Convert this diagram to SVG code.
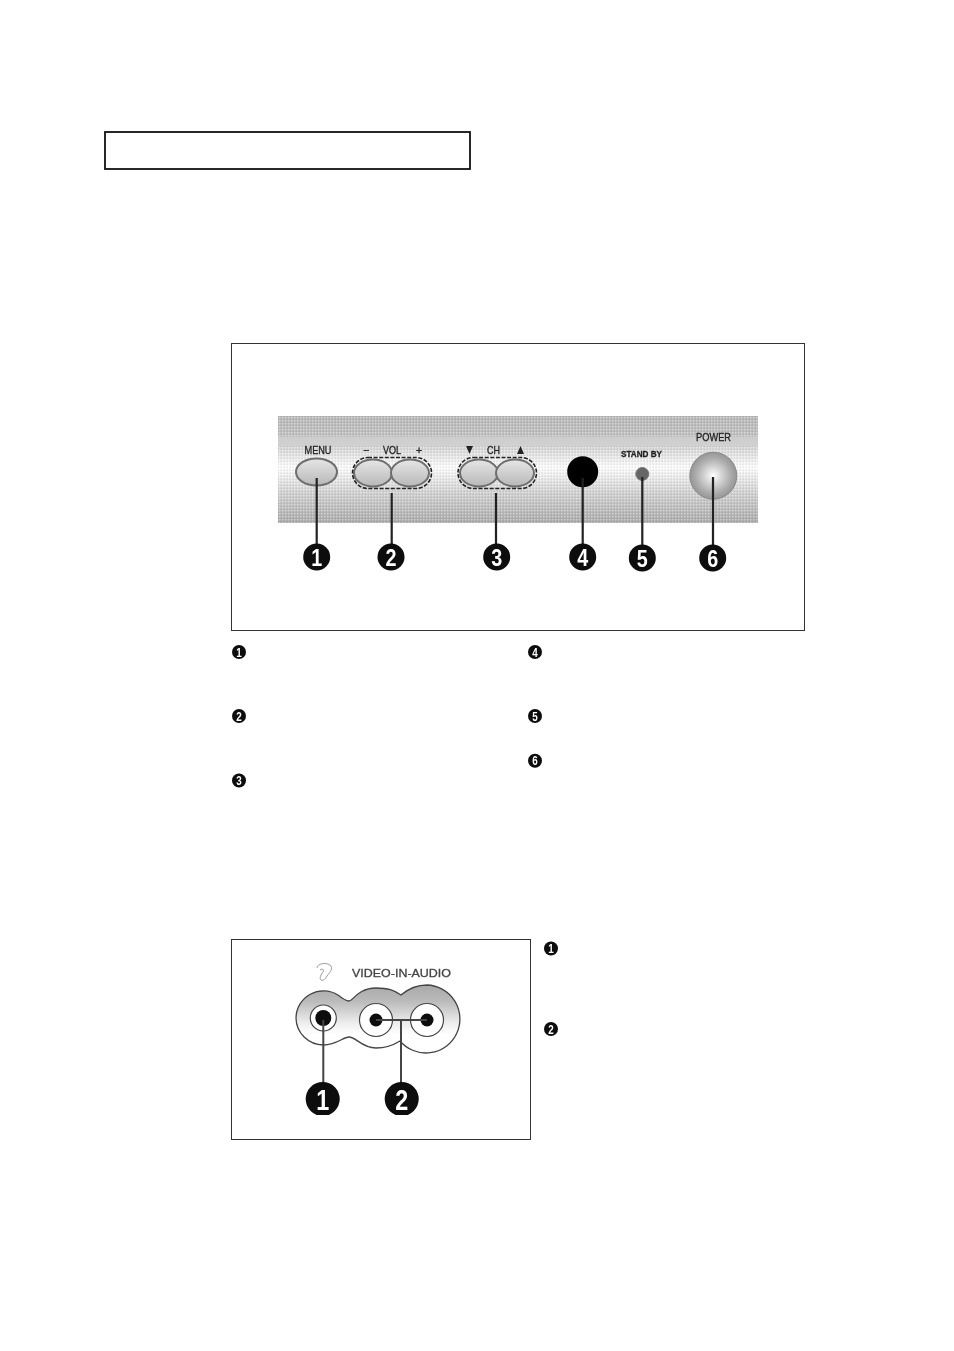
<svg xmlns="http://www.w3.org/2000/svg" width="954" height="1351" viewBox="0 0 954 1351">
<style>
.frame{fill:#fff;stroke:#333;stroke-width:1}
.lbl{font-family:"Liberation Sans",Arial,sans-serif;fill:#222;stroke:#222;stroke-width:.3;font-size:10.5px;text-anchor:middle}
.btn{fill:url(#btnG);stroke:#6e6e6e;stroke-width:2}
.dash{fill:none;stroke:#222;stroke-width:1.6;stroke-dasharray:4 1.6}
.lead{fill:none;stroke:#222;stroke-width:2.2}
.lead2{fill:none;stroke:#444;stroke-width:2}
.big{fill:#0a0a0a}
.num{font-family:"Liberation Sans",Arial,sans-serif;font-weight:700;fill:#fff;text-anchor:middle}
.n1{font-size:24px}
.n2{font-size:12px}
.hole{fill:#0a0a0a}
.ring{fill:#fff;stroke:#444;stroke-width:1.2}
</style>
<defs>
<linearGradient id="panelG" x1="0" y1="0" x2="0" y2="1">
<stop offset="0" stop-color="#b8b8b8"/><stop offset=".19" stop-color="#c0c0c0"/><stop offset=".2" stop-color="#cdcdcd"/><stop offset=".27" stop-color="#d0d0d0"/><stop offset=".48" stop-color="#fdfdfd"/><stop offset=".72" stop-color="#d0d0d0"/><stop offset="1" stop-color="#aaa"/>
</linearGradient>
<pattern id="dots" width="3" height="3" patternUnits="userSpaceOnUse"><rect width="1.4" height="1.4" fill="#fff" opacity=".4"/><rect x="1.5" y="1.5" width="1.4" height="1.4" fill="#777" opacity=".2"/></pattern>
<linearGradient id="btnG" x1="0" y1="0" x2="0" y2="1"><stop offset="0" stop-color="#e6e6e6"/><stop offset="1" stop-color="#b8b8b8"/></linearGradient>
<radialGradient id="powG"><stop offset="0" stop-color="#fff"/><stop offset=".3" stop-color="#dcdcdc"/><stop offset=".75" stop-color="#ababab"/><stop offset="1" stop-color="#969696"/></radialGradient>
<linearGradient id="jackG" gradientUnits="userSpaceOnUse" x1="0" y1="985" x2="0" y2="1053"><stop offset="0" stop-color="#a8a8a8"/><stop offset=".25" stop-color="#bcbcbc"/><stop offset=".55" stop-color="#ececec"/><stop offset=".72" stop-color="#fff"/></linearGradient>
<clipPath id="jackClip"><rect x="290" y="980" width="172.500" height="80"/></clipPath>
<clipPath id="badgeClip"><rect x="290" y="1075" width="130" height="40"/></clipPath>
<filter id="soft" x="-5%" y="-5%" width="110%" height="110%"><feGaussianBlur stdDeviation=".5"/></filter>
</defs>
<rect width="954" height="1351" fill="#fff"/>
<rect id="title-box" x="105" y="132" width="365" height="37" fill="#fff" stroke="#111" stroke-width="1.800"/>
<rect id="front-frame" class="frame" x="231.500" y="343.500" width="573" height="287"/>
<rect id="side-frame" class="frame" x="231.500" y="939.500" width="299" height="200"/>
<g filter="url(#soft)">
<g id="front-panel">
<rect x="278" y="416" width="480" height="107" fill="url(#panelG)"/>
<rect x="278" y="416" width="480" height="21" fill="url(#dots)"/>
<rect x="278" y="446" width="480" height="77" fill="url(#dots)"/>
</g>
<g id="menu-button"><ellipse class="btn" cx="316.500" cy="472" rx="20.500" ry="13.500"/><text class="lbl" x="318" y="454" textLength="27" lengthAdjust="spacingAndGlyphs">MENU</text></g>
<g id="vol-buttons"><ellipse class="btn" cx="373" cy="473" rx="19" ry="13.500"/><ellipse class="btn" cx="410" cy="473" rx="19" ry="13.500"/><rect class="dash" x="352.500" y="457.500" width="79" height="31" rx="15.500"/><text class="lbl" x="366" y="454">−</text><text class="lbl" x="392" y="454" textLength="18" lengthAdjust="spacingAndGlyphs">VOL</text><text class="lbl" x="419" y="454">+</text></g>
<g id="ch-buttons"><ellipse class="btn" cx="479" cy="473" rx="19" ry="13.500"/><ellipse class="btn" cx="515" cy="473" rx="19" ry="13.500"/><rect class="dash" x="458" y="457.500" width="78.500" height="31" rx="15.500"/><path d="M466 446h7l-3.500 8z" fill="#222"/><text class="lbl" x="493.500" y="454" textLength="13" lengthAdjust="spacingAndGlyphs">CH</text><path d="M517 454h7l-3.500-8z" fill="#222"/></g>
<g id="sensor"><circle cx="582.700" cy="471.700" r="15.500" fill="#050505"/></g>
<g id="standby"><circle cx="642.300" cy="474" r="6.500" fill="#666" stroke="#777"/><text class="lbl" x="641.500" y="457" textLength="41" lengthAdjust="spacingAndGlyphs" style="font-size:9.500px;font-weight:700">STAND BY</text></g>
<g id="power"><circle cx="713.300" cy="475.700" r="23.500" fill="url(#powG)" stroke="#8a8a8a"/><text class="lbl" x="713.500" y="441" textLength="35" lengthAdjust="spacingAndGlyphs">POWER</text></g>
<g id="jack-panel" clip-path="url(#jackClip)">
<path d="M296 1018A27.500 27.500 0 0 1 338 995C343 999 346 1001 349 1001C353 1001 358 988 376 988C388 988 394 990 401 995C408 989 416 985 427 985A34 34 0 1 1 400 1041C392 1046 385 1048 376 1048C362 1048 356 1037 349 1037C343 1037 337 1045 323.300 1045A27.500 27.500 0 0 1 296 1018Z" fill="url(#jackG)" stroke="#444" stroke-width="1.300"/>
</g>
<g id="ear"><path d="M317 968C317 963 328 962 331 966C333 970 329 973 327 976C325 979 324 981 321 980C319 979 321 974 323 972C325 970 322 968 320 970" fill="#fff" stroke="#999" stroke-width="1"/></g>
<text id="video-label" class="lbl" x="401.500" y="977" textLength="99" lengthAdjust="spacingAndGlyphs" style="font-size:11.500px;fill:#444;stroke:#444">VIDEO-IN-AUDIO</text>
<g id="jack-1"><circle class="ring" cx="323.300" cy="1018" r="13"/><circle class="hole" cx="323.300" cy="1018" r="8"/></g>
<g id="jack-2"><circle class="ring" cx="376" cy="1020" r="16.500"/><circle class="hole" cx="376" cy="1020" r="6.500"/></g>
<g id="jack-3"><circle class="ring" cx="427" cy="1020" r="16.500"/><circle class="hole" cx="427" cy="1020" r="6.500"/></g>
<g id="connectors">
<path class="lead" d="M316.700 478V547M391.700 493V547M496 493V547M582.700 478V547M642.300 477V547M713 477V547"/>
<path class="lead2" d="M323.300 1020V1086M376 1020H427M401 1020V1086"/>
</g>
<g id="callout-1"><circle class="big" cx="316.700" cy="557" r="13.500"/><text class="num n1" x="316.700" y="566" textLength="11" lengthAdjust="spacingAndGlyphs">1</text></g>
<g id="callout-2"><circle class="big" cx="391" cy="557" r="13.500"/><text class="num n1" x="391" y="566" textLength="11" lengthAdjust="spacingAndGlyphs">2</text></g>
<g id="callout-3"><circle class="big" cx="496.700" cy="557" r="13.500"/><text class="num n1" x="496.700" y="566" textLength="11" lengthAdjust="spacingAndGlyphs">3</text></g>
<g id="callout-4"><circle class="big" cx="582.700" cy="557" r="13.500"/><text class="num n1" x="582.700" y="566" textLength="11" lengthAdjust="spacingAndGlyphs">4</text></g>
<g id="callout-5"><circle class="big" cx="642.300" cy="558" r="13.500"/><text class="num n1" x="642.300" y="567" textLength="11" lengthAdjust="spacingAndGlyphs">5</text></g>
<g id="callout-6"><circle class="big" cx="712.700" cy="558" r="13.500"/><text class="num n1" x="712.700" y="567" textLength="11" lengthAdjust="spacingAndGlyphs">6</text></g>
<g id="jack-callout-1" clip-path="url(#badgeClip)"><circle class="big" cx="322.700" cy="1099" r="17"/><text class="num" x="322.700" y="1110" font-size="30" textLength="13" lengthAdjust="spacingAndGlyphs">1</text></g>
<g id="jack-callout-2" clip-path="url(#badgeClip)"><circle class="big" cx="401.700" cy="1099" r="17"/><text class="num" x="401.700" y="1110" font-size="30" textLength="13" lengthAdjust="spacingAndGlyphs">2</text></g>
<g id="bullet-1"><circle class="big" cx="239" cy="652" r="7"/><text class="num n2" x="239" y="656.500" textLength="5.500" lengthAdjust="spacingAndGlyphs">1</text></g>
<g id="bullet-2"><circle class="big" cx="239" cy="716" r="7"/><text class="num n2" x="239" y="720.500" textLength="5.500" lengthAdjust="spacingAndGlyphs">2</text></g>
<g id="bullet-3"><circle class="big" cx="239" cy="780.500" r="7"/><text class="num n2" x="239" y="785" textLength="5.500" lengthAdjust="spacingAndGlyphs">3</text></g>
<g id="bullet-4"><circle class="big" cx="535" cy="652" r="7"/><text class="num n2" x="535" y="656.500" textLength="5.500" lengthAdjust="spacingAndGlyphs">4</text></g>
<g id="bullet-5"><circle class="big" cx="535" cy="716" r="7"/><text class="num n2" x="535" y="720.500" textLength="5.500" lengthAdjust="spacingAndGlyphs">5</text></g>
<g id="bullet-6"><circle class="big" cx="535" cy="760.700" r="7"/><text class="num n2" x="535" y="765" textLength="5.500" lengthAdjust="spacingAndGlyphs">6</text></g>
<g id="side-bullet-1"><circle class="big" cx="551" cy="948.500" r="7"/><text class="num n2" x="551" y="953" textLength="5.500" lengthAdjust="spacingAndGlyphs">1</text></g>
<g id="side-bullet-2"><circle class="big" cx="551" cy="1029" r="7"/><text class="num n2" x="551" y="1033.500" textLength="5.500" lengthAdjust="spacingAndGlyphs">2</text></g>
</g>
</svg>
